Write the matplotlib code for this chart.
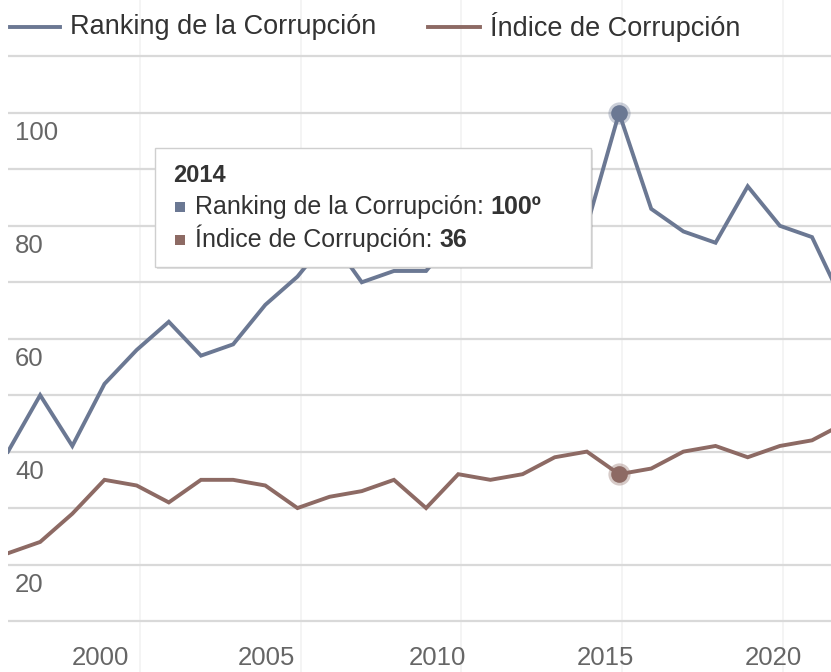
import matplotlib
matplotlib.use("Agg")
from matplotlib import pyplot as plt
from matplotlib.patches import Rectangle

plt.rcParams['font.family'] = ['Liberation Sans', 'DejaVu Sans']

# datos
years = list(range(1995, 2022))
ranking = [40, 50, 41, 52, 58, 63, 57, 59, 66, 71, 78, 70, 72, 72, 79,
           78, 75, 80, 80, 100, 83, 79, 77, 87, 80, 78, 66]
indice = [22, 24, 29, 35, 34, 31, 35, 35, 34, 30, 32, 33, 35, 30, 36,
          35, 36, 39, 40, 36, 37, 40, 41, 39, 41, 42, 45]
series_names = ['Ranking de la Corrupción', 'Índice de Corrupción']
xtick_labels = ['2000', '2005', '2010', '2015', '2020']
xtick_pos = [1997.86, 2003.05, 2008.34, 2013.59, 2018.79]
xgrid_pos = [1999.1, 2004.1, 2009.1, 2014.1, 2019.1]
ygrid = list(range(10, 111, 10))
ylabels = [20, 40, 60, 80, 100]
hover_year = 2014

c_rank = '#6b7893'
c_ind = '#8d6a64'
txt = '#333333'
axis_txt = '#666666'

W, H = 831, 672
fig = plt.figure(figsize=(W / 100, H / 100), dpi=100)
ax = fig.add_axes([8 / W, 0, 1 - 8 / W, 1])
ax.set_xlim(1995, 2020.59)
ax.set_ylim(0.96, 120.0)
for s in ax.spines.values():
    s.set_visible(False)

# rejilla
ax.set_yticks(ygrid)
ax.set_yticklabels([])
ax.tick_params(axis='y', length=0)
ax.grid(axis='y', color='#d9d9d9', lw=1.6, zorder=0)
for gx in xgrid_pos:
    ax.axvline(gx, color='#f2f2f2', lw=1.2, zorder=0)
ax.set_xticks(xtick_pos)
ax.set_xticklabels(xtick_labels, fontsize=18.5, color=axis_txt)
ax.tick_params(axis='x', length=0, pad=-19)

for v in ylabels:
    ax.annotate(str(v), xy=(0, v), xycoords=('axes fraction', 'data'),
                xytext=(5, -14.5), textcoords='offset points',
                ha='left', va='center', fontsize=18.5, color=axis_txt)

# series
ax.plot(years, ranking, color=c_rank, lw=2.8, zorder=3, solid_joinstyle='miter')
ax.plot(years, indice, color=c_ind, lw=2.8, zorder=3, solid_joinstyle='miter')

i = years.index(hover_year)
for vals, c in ((ranking, c_rank), (indice, c_ind)):
    ax.plot(years[i], vals[i], 'o', ms=16, color=c, alpha=0.35, mec='none', zorder=4)
    ax.plot(years[i], vals[i], 'o', ms=12, color=c, mec='none', zorder=5)

# leyenda
for (x0, x1, xt), name, c in (((10, 60, 70), series_names[0], c_rank),
                             ((428, 480, 490), series_names[1], c_ind)):
    fig.add_artist(plt.Line2D([x0 / W, x1 / W], [1 - 27 / H, 1 - 27 / H],
                              color=c, lw=2.8, transform=fig.transFigure))
    fig.text(xt / W, 1 - 27 / H, name, ha='left', va='center',
             fontsize=19.5, color=txt)

# tooltip
bx, by, bw, bh = 155, 148, 436, 119
fig.add_artist(Rectangle(((bx + 2) / W, 1 - (by + bh + 2) / H), bw / W, bh / H,
                         transform=fig.transFigure, fc='#000000', alpha=0.12,
                         ec='none', zorder=9))
fig.add_artist(Rectangle((bx / W, 1 - (by + bh) / H), bw / W, bh / H,
                         transform=fig.transFigure, fc='white', ec='#cfcfcf',
                         lw=1.0, zorder=10))
fig.text(173 / W, 1 - 182 / H, str(hover_year), ha='left', va='baseline',
         fontsize=17, fontweight='bold', color=txt, zorder=11)
renderer = fig.canvas.get_renderer()
rows = ((series_names[0], f'{ranking[i]}º', c_rank, 207),
        (series_names[1], f'{indice[i]}', c_ind, 240))
for name, val, c, yy in rows:
    fig.add_artist(Rectangle((175 / W, 1 - (yy + 5) / H), 10 / W, 10 / H,
                             transform=fig.transFigure, fc=c, ec='none', zorder=11))
    t = fig.text(195 / W, 1 - (yy + 7) / H, name + ': ', ha='left', va='baseline',
                 fontsize=18, color=txt, zorder=11)
    x_end = t.get_window_extent(renderer).x1
    fig.text(x_end / W, 1 - (yy + 7) / H, val, ha='left', va='baseline',
             fontsize=18, fontweight='bold', color=txt, zorder=11)

fig.savefig('out.png', dpi=100)
